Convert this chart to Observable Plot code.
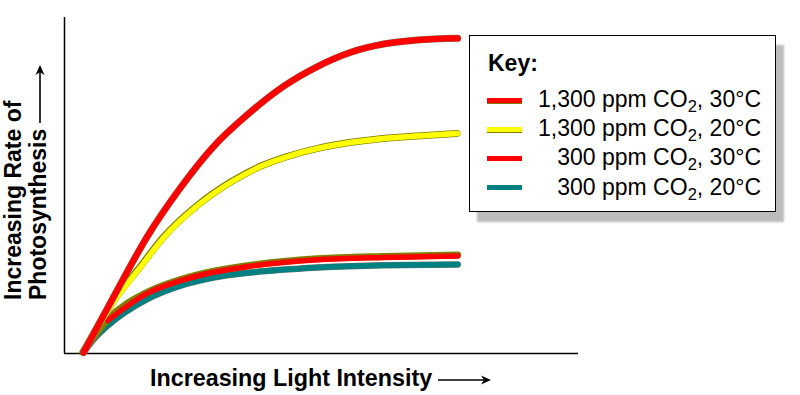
<!DOCTYPE html>
<html>
<head>
<meta charset="utf-8">
<script src="https://cdn.jsdelivr.net/npm/d3@7"></script>
<script src="https://cdn.jsdelivr.net/npm/@observablehq/plot@0.6"></script>
<style>
  html, body { margin: 0; padding: 0; background: #fff; }
  #wrap { position: relative; width: 800px; height: 395px; font-family: "Liberation Sans", Arial, Helvetica, sans-serif; color: #000; }
  #wrap svg.plot { position: absolute; left: 0; top: 0; }
  .abs { position: absolute; white-space: nowrap; }
  .lab { font-weight: bold; font-size: 23px; line-height: 25px; }
  #legend { position: absolute; left: 469px; top: 35px; width: 305px; height: 175px; border: 1.5px solid #000; background: #fff; box-shadow: 8px 10px 2px #bcbcbc; }
  .row { font-size: 23px; line-height: 29px; text-align: right; }
  .row sub { font-size: 0.72em; vertical-align: -0.32em; line-height: 0; }
  .sw { position: absolute; width: 35px; height: 5px; }
</style>
</head>
<body>
<div id="wrap"></div>
<script>
// Light intensity (arbitrary units, 0-10) and rate of photosynthesis (arbitrary units, 0-10)
const co2Hi30_x = [0.37, 0.95, 1.61, 2.26, 2.90, 3.56, 4.26, 4.92, 5.56, 6.21, 6.87, 7.65];
const co2Hi30_y = [0.03, 1.67, 3.48, 4.94, 6.16, 7.11, 7.95, 8.54, 8.96, 9.21, 9.33, 9.38];

const co2Hi20_x = [0.37, 0.95, 1.48, 1.93, 2.59, 3.23, 3.87, 4.34, 4.92, 5.56, 6.21, 6.87, 7.65];
const co2Hi20_y = [0.03, 1.52, 2.57, 3.45, 4.40, 5.09, 5.60, 5.86, 6.10, 6.28, 6.40, 6.47, 6.55];

const co2Lo30_x = [0.84, 1.61, 2.26, 2.90, 3.62, 4.92, 6.21, 7.65];
const co2Lo30_y = [0.98, 1.79, 2.17, 2.42, 2.60, 2.79, 2.86, 2.90];

const co2Lo20_x = [0.37, 0.60, 0.84, 1.61, 2.26, 2.90, 3.62, 4.92, 6.21, 7.65];
const co2Lo20_y = [0.03, 0.48, 0.83, 1.62, 2.02, 2.26, 2.41, 2.56, 2.63, 2.65];

const origin = [0.37, 0.03];

const seriesPpm = [1300, 1300, 300, 300];
const seriesTemp = [30, 20, 30, 20];
const seriesColor = ["#ff0000", "#ffff00", "#ff0000", "#008080"];
const edgeColor = "#808000";

const xLabel = "Increasing Light Intensity";
const yLabel1 = "Increasing Rate of";
const yLabel2 = "Photosynthesis";
const keyTitle = "Key:";

const toPts = (xs, ys) => xs.map((x, i) => ({x, y: ys[i]}));
const hi30 = toPts(co2Hi30_x, co2Hi30_y);
const hi20 = toPts(co2Hi20_x, co2Hi20_y);
const lo30 = toPts(co2Lo30_x, co2Lo30_y);
const lo20 = toPts(co2Lo20_x, co2Lo20_y);
const lo30Edge = [{x: origin[0], y: origin[1]}, ...lo30];

const curve = "monotone-x";
const chart = Plot.plot({
  width: 800,
  height: 395,
  marginLeft: 64,
  marginRight: 222,
  marginTop: 17,
  marginBottom: 42,
  x: {domain: [0, 10], axis: null},
  y: {domain: [0, 10], axis: null},
  marks: [
    Plot.ruleX([0], {stroke: "#000", strokeWidth: 1.5}),
    Plot.ruleY([0], {stroke: "#000", strokeWidth: 1.5}),
    Plot.line(lo20, {x: "x", y: "y", stroke: "#6a7a70", strokeWidth: 6.5, curve}),
    Plot.line(lo20, {x: "x", y: "y", stroke: seriesColor[3], strokeWidth: 5.5, curve}),
    Plot.line(lo30Edge, {x: "x", y: "y", stroke: edgeColor, strokeWidth: 7, curve, dy: -1}),
    Plot.line(lo30, {x: "x", y: "y", stroke: seriesColor[2], strokeWidth: 5.5, curve}),
    Plot.line(hi20, {x: "x", y: "y", stroke: edgeColor, strokeWidth: 7, curve, dx: -0.7}),
    Plot.line(hi20, {x: "x", y: "y", stroke: seriesColor[1], strokeWidth: 5.5, curve}),
    Plot.line(hi30, {x: "x", y: "y", stroke: "#8a6a50", strokeWidth: 7, curve}),
    Plot.line(hi30, {x: "x", y: "y", stroke: seriesColor[0], strokeWidth: 6, curve})
  ]
});
chart.classList.add("plot");
const wrap = document.getElementById("wrap");
wrap.appendChild(chart);

const arrowSvg = (len) =>
  `<svg width="${len}" height="12" viewBox="0 0 ${len} 12" style="vertical-align:middle;margin-left:6px">` +
  `<line x1="0" y1="6" x2="${len - 3}" y2="6" stroke="#000" stroke-width="1.6"/>` +
  `<path d="M${len - 10},1.5 L${len},6 L${len - 10},10.5 L${len - 7},6 Z" fill="#000"/></svg>`;

// x axis label
const xl = document.createElement("div");
xl.className = "abs lab";
xl.style.left = "150px";
xl.style.top = "366px";
xl.style.fontSize = "23.3px";
xl.innerHTML = `<span>${xLabel}</span>${arrowSvg(53)}`;
wrap.appendChild(xl);

// y axis label (rotated)
const yl = document.createElement("div");
yl.className = "abs lab";
yl.style.left = "1px";
yl.style.top = "300px";
yl.style.transformOrigin = "0 0";
yl.style.transform = "rotate(-90deg)";
yl.innerHTML = `<div>${yLabel1}</div><div>${yLabel2}${arrowSvg(58)}</div>`;
wrap.appendChild(yl);

// legend
const lg = document.createElement("div");
lg.id = "legend";
wrap.appendChild(lg);

const kt = document.createElement("div");
kt.className = "abs lab";
kt.style.left = "488px";
kt.style.top = "49px";
kt.style.lineHeight = "29px";
kt.textContent = keyTitle;
wrap.appendChild(kt);

const fmt = d3.format(",");
seriesPpm.forEach((ppm, i) => {
  const sw = document.createElement("div");
  sw.className = "sw";
  sw.style.left = "487px";
  sw.style.top = (97.5 + 29.2 * i) + "px";
  sw.style.background = seriesColor[i];
  if (i < 2) sw.style.borderBottom = "1px solid " + edgeColor;
  wrap.appendChild(sw);

  const r = document.createElement("div");
  r.className = "abs row";
  r.style.right = (800 - 761) + "px";
  r.style.top = (85 + 29.2 * i) + "px";
  r.innerHTML = `${fmt(ppm)} ppm CO<sub>2</sub>, ${seriesTemp[i]}°C`;
  wrap.appendChild(r);
});
</script>
</body>
</html>
